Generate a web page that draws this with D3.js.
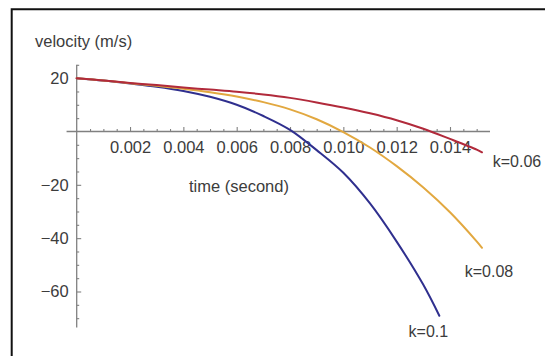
<!DOCTYPE html>
<html>
<head>
<meta charset="utf-8">
<script src="https://cdn.jsdelivr.net/npm/d3@7"></script>
<style>
  html, body { margin: 0; padding: 0; background: #fff; }
  svg { display: block; }
  text { font-family: "Liberation Sans", Arial, Helvetica, sans-serif; fill: #3c3c3c; }
</style>
</head>
<body>
<svg id="chart" width="545" height="356"></svg>
<script>
// Velocity of the body for three drag coefficients k, sampled every millisecond.
const timeK006 = [0, 0.001, 0.002, 0.003, 0.004, 0.005, 0.006, 0.007, 0.008, 0.009, 0.010, 0.011, 0.012, 0.013, 0.014, 0.015, 0.0152];
const velK006  = [20, 19.1, 18.2, 17.4, 16.5, 15.7, 14.9, 13.9, 12.6, 10.9, 9.0, 6.8, 4.2, 1.0, -2.8, -6.8, -7.8];

const timeK008 = [0, 0.001, 0.002, 0.003, 0.004, 0.005, 0.006, 0.007, 0.008, 0.009, 0.010, 0.011, 0.012, 0.013, 0.014, 0.015, 0.0152];
const velK008  = [20, 19.1, 18.1, 17.1, 16.0, 14.7, 13.1, 11.0, 8.3, 4.6, -0.2, -6.0, -13.0, -21.0, -30.3, -41.2, -43.6];

const timeK01 = [0, 0.001, 0.002, 0.003, 0.004, 0.005, 0.006, 0.007, 0.008, 0.009, 0.010, 0.011, 0.012, 0.013, 0.0136];
const velK01  = [20, 19.1, 18.0, 16.8, 15.2, 13.0, 10.0, 5.8, 0.6, -7.0, -15.5, -27.0, -41.3, -57.5, -69.1];

const seriesNames  = ["k=0.06", "k=0.08", "k=0.1"];
const seriesColors = ["#b12a3b", "#e2a840", "#2f2f8e"];

// Axis ticks
const xMajorTicks = [0.002, 0.004, 0.006, 0.008, 0.010, 0.012, 0.014];
const xMinorTicks = d3.range(1, 31).map(i => i * 0.0005).filter(t => Math.abs(t / 0.002 - Math.round(t / 0.002)) > 1e-6);
const yMajorTicks = [20, -20, -40, -60];
const yMinorTicks = d3.range(-70, 26, 5).filter(v => v % 20 !== 0);

const xTitle = "time (second)";
const yTitle = "velocity (m/s)";

const svg = d3.select("#chart");

// Frame line on the top and left edges
svg.append("path")
  .attr("d", "M11.7,356 L11.7,9.3 L545,9.3")
  .attr("fill", "none")
  .attr("stroke", "#111")
  .attr("stroke-width", 2);

const x = d3.scaleLinear().domain([0, 0.0155]).range([76.7, 490]);
const y = d3.scaleLinear().domain([-73.5, 25]).range([327.5, 64.8]);

const axisColor = "#808080";
const tickFont = "16.5px";

// Horizontal axis at v = 0, ticks pointing up, labels below
const gx = svg.append("g").attr("transform", `translate(0,${y(0)})`);
gx.append("line")
  .attr("x1", x(-0.00038)).attr("x2", x(0.0155))
  .attr("stroke", axisColor).attr("stroke-width", 1.3);
gx.append("g")
  .call(d3.axisBottom(x).tickValues(xMinorTicks).tickSizeInner(-2.5).tickSizeOuter(0).tickFormat(""))
  .call(g => g.select(".domain").remove())
  .call(g => g.selectAll("line").attr("stroke", axisColor).attr("stroke-width", 1.1));
gx.append("g")
  .call(d3.axisBottom(x).tickValues(xMajorTicks).tickSizeInner(-4.5).tickSizeOuter(0).tickPadding(9.5)
        .tickFormat(d3.format(".3f")))
  .call(g => g.select(".domain").remove())
  .call(g => g.selectAll("line").attr("stroke", axisColor).attr("stroke-width", 1.1))
  .call(g => g.selectAll("text").attr("font-size", tickFont).attr("fill", "#3c3c3c")
        .style("font-family", "'Liberation Sans', Arial, sans-serif"));

// Vertical axis at t = 0, ticks pointing right, labels on the left
const gy = svg.append("g").attr("transform", `translate(${x(0)},0)`);
gy.append("line")
  .attr("y1", y(25)).attr("y2", y(-73.5))
  .attr("stroke", axisColor).attr("stroke-width", 1.3);
gy.append("g")
  .call(d3.axisLeft(y).tickValues(yMinorTicks).tickSizeInner(-2.5).tickSizeOuter(0).tickFormat(""))
  .call(g => g.select(".domain").remove())
  .call(g => g.selectAll("line").attr("stroke", axisColor).attr("stroke-width", 1.1));
gy.append("g")
  .call(d3.axisLeft(y).tickValues(yMajorTicks).tickSizeInner(-4.5).tickSizeOuter(0).tickPadding(8)
        .tickFormat(d3.format("d")))
  .call(g => g.select(".domain").remove())
  .call(g => g.selectAll("line").attr("stroke", axisColor).attr("stroke-width", 1.1))
  .call(g => g.selectAll("text").attr("font-size", tickFont).attr("fill", "#3c3c3c")
        .style("font-family", "'Liberation Sans', Arial, sans-serif"));

// Axis titles
svg.append("text")
  .attr("x", 35).attr("y", 47)
  .attr("font-size", "16.5px")
  .text(yTitle);

svg.append("text")
  .attr("x", 239).attr("y", 192)
  .attr("text-anchor", "middle")
  .attr("font-size", "16.5px")
  .text(xTitle);

// Velocity curves
const series = [
  { name: seriesNames[0], color: seriesColors[0], t: timeK006, v: velK006 },
  { name: seriesNames[1], color: seriesColors[1], t: timeK008, v: velK008 },
  { name: seriesNames[2], color: seriesColors[2], t: timeK01,  v: velK01 }
];

const line = d3.line()
  .x(d => x(d[0]))
  .y(d => y(d[1]))
  .curve(d3.curveCatmullRom.alpha(0.5));

// draw k=0.1 first so the lighter curves sit on top near the start
[series[2], series[1], series[0]].forEach(s => {
  svg.append("path")
    .datum(d3.zip(s.t, s.v))
    .attr("fill", "none")
    .attr("stroke", s.color)
    .attr("stroke-width", 2)
    .attr("stroke-linecap", "round")
    .attr("d", line);
});

// Curve labels placed just past each curve's end
const labelOffsets = [[35, 9.5], [7, 24], [-11, 16]];
series.forEach((s, i) => {
  const tEnd = s.t[s.t.length - 1];
  const vEnd = s.v[s.v.length - 1];
  svg.append("text")
    .attr("x", x(tEnd) + labelOffsets[i][0])
    .attr("y", y(vEnd) + labelOffsets[i][1])
    .attr("dy", "0.35em")
    .attr("text-anchor", "middle")
    .attr("font-size", "16px")
    .attr("fill", "#333")
    .text(s.name);
});
</script>
</body>
</html>
